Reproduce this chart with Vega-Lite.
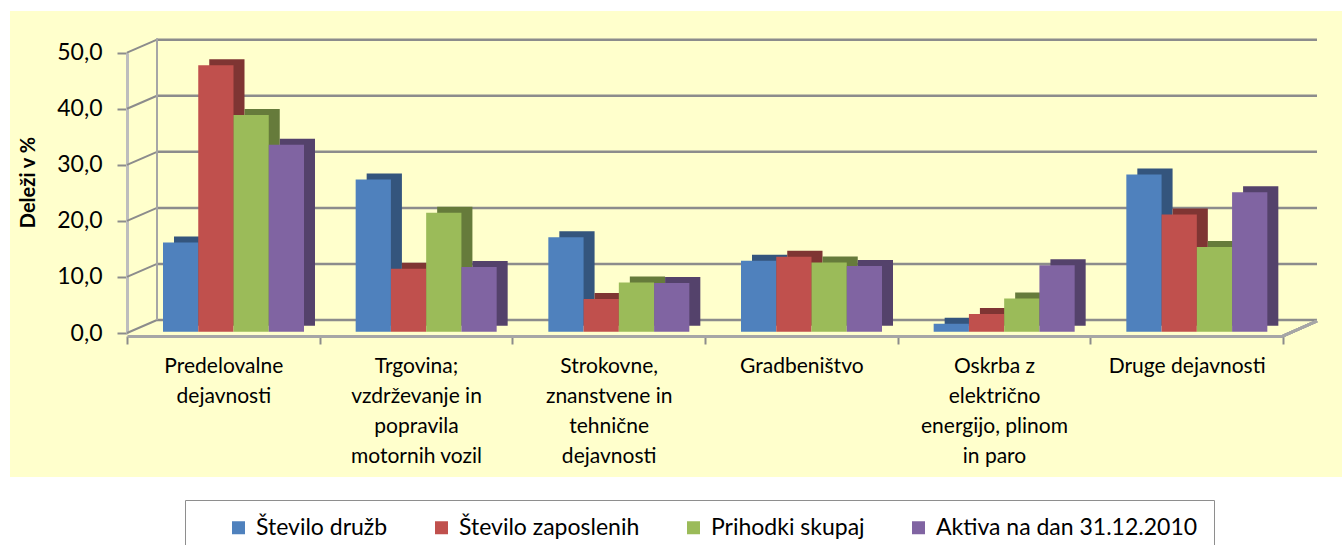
{
  "$schema": "https://vega.github.io/schema/vega-lite/v6.json",
  "width": 1332,
  "height": 466,
  "autosize": {"type": "none"},
  "padding": {"left": 10, "top": 11, "right": 0, "bottom": 68},
  "background": "white",
  "config": {"view": {"fill": "#FFFFCC", "stroke": null}, "font": "Lato"},
  "datasets": {
    "mreza": [{"v": 0}, {"v": 10}, {"v": 20}, {"v": 30}, {"v": 40}, {"v": 50}],
    "delezi": [
      {"kat": "Predelovalne dejavnosti", "serija": "Število družb", "delez": 15.6},
      {"kat": "Predelovalne dejavnosti", "serija": "Število zaposlenih", "delez": 46.6},
      {"kat": "Predelovalne dejavnosti", "serija": "Prihodki skupaj", "delez": 37.9},
      {"kat": "Predelovalne dejavnosti", "serija": "Aktiva na dan 31.12.2010", "delez": 32.7},
      {"kat": "Trgovina; vzdrževanje in popravila motornih vozil", "serija": "Število družb", "delez": 26.6},
      {"kat": "Trgovina; vzdrževanje in popravila motornih vozil", "serija": "Število zaposlenih", "delez": 11.0},
      {"kat": "Trgovina; vzdrževanje in popravila motornih vozil", "serija": "Prihodki skupaj", "delez": 20.8},
      {"kat": "Trgovina; vzdrževanje in popravila motornih vozil", "serija": "Aktiva na dan 31.12.2010", "delez": 11.3},
      {"kat": "Strokovne, znanstvene in tehnične dejavnosti", "serija": "Število družb", "delez": 16.5},
      {"kat": "Strokovne, znanstvene in tehnične dejavnosti", "serija": "Število zaposlenih", "delez": 5.7},
      {"kat": "Strokovne, znanstvene in tehnične dejavnosti", "serija": "Prihodki skupaj", "delez": 8.6},
      {"kat": "Strokovne, znanstvene in tehnične dejavnosti", "serija": "Aktiva na dan 31.12.2010", "delez": 8.5},
      {"kat": "Gradbeništvo", "serija": "Število družb", "delez": 12.4},
      {"kat": "Gradbeništvo", "serija": "Število zaposlenih", "delez": 13.1},
      {"kat": "Gradbeništvo", "serija": "Prihodki skupaj", "delez": 12.1},
      {"kat": "Gradbeništvo", "serija": "Aktiva na dan 31.12.2010", "delez": 11.5},
      {"kat": "Oskrba z električno energijo, plinom in paro", "serija": "Število družb", "delez": 1.4},
      {"kat": "Oskrba z električno energijo, plinom in paro", "serija": "Število zaposlenih", "delez": 3.1},
      {"kat": "Oskrba z električno energijo, plinom in paro", "serija": "Prihodki skupaj", "delez": 5.8},
      {"kat": "Oskrba z električno energijo, plinom in paro", "serija": "Aktiva na dan 31.12.2010", "delez": 11.6},
      {"kat": "Druge dejavnosti", "serija": "Število družb", "delez": 27.5},
      {"kat": "Druge dejavnosti", "serija": "Število zaposlenih", "delez": 20.5},
      {"kat": "Druge dejavnosti", "serija": "Prihodki skupaj", "delez": 14.8},
      {"kat": "Druge dejavnosti", "serija": "Aktiva na dan 31.12.2010", "delez": 24.4}
    ]
  },
  "layer": [
    {
      "data": {"name": "mreza"},
      "encoding": {
        "x": {"datum": 0, "type": "quantitative", "scale": {"domain": [0, 1], "range": [117, 1273], "nice": false, "zero": false}, "axis": null},
        "y": {
          "field": "v",
          "type": "quantitative",
          "scale": {"domain": [0, 50], "range": [322, 41.7], "nice": false, "zero": false},
          "axis": {
            "orient": "left",
            "offset": -117,
            "values": [0, 10, 20, 30, 40, 50],
            "labelExpr": "replace(format(datum.value, '.1f'), '.', ',')",
            "grid": false,
            "domainColor": "#BDBDBD",
            "domainWidth": 3,
            "tickColor": "#8C8C8C",
            "tickWidth": 2,
            "tickSize": 10,
            "labelFont": "Lato",
            "labelFontSize": 23,
            "labelColor": "black",
            "labelPadding": 15,
            "title": "Deleži v %",
            "titleFont": "Lato",
            "titleFontSize": 20,
            "titleFontWeight": "bold",
            "titleColor": "black",
            "titleAngle": -90,
            "titleAlign": "center",
            "titleBaseline": "middle",
            "titleX": -98.5,
            "titleY": 171
          }
        }
      },
      "layer": [
        {
          "mark": {"type": "rule", "color": "#8C8C8C", "strokeWidth": 2.5, "xOffset": 30, "x2Offset": 34, "yOffset": -13},
          "encoding": {"x2": {"datum": 1}}
        },
        {
          "mark": {"type": "rule", "color": "#8C8C8C", "strokeWidth": 2, "x2Offset": 30, "y2Offset": -13},
          "encoding": {"x2": {"datum": 0}, "y2": {"field": "v"}}
        },
        {
          "mark": {"type": "rule", "color": "#A6A6A6", "strokeWidth": 2, "xOffset": 30, "yOffset": -13, "y2Offset": -14},
          "encoding": {"y": {"datum": 0, "type": "quantitative"}, "y2": {"datum": 50}}
        },
        {
          "mark": {"type": "rule", "color": "#A6A6A6", "strokeWidth": 2.5, "x2Offset": 34, "yOffset": 3, "y2Offset": -12},
          "encoding": {"x": {"datum": 1, "type": "quantitative"}, "x2": {"datum": 1}, "y": {"datum": 0, "type": "quantitative"}, "y2": {"datum": 0}}
        }
      ]
    },
    {
      "data": {"name": "delezi"},
      "encoding": {
        "x": {
          "field": "kat",
          "type": "nominal",
          "sort": ["Predelovalne dejavnosti", "Trgovina; vzdrževanje in popravila motornih vozil", "Strokovne, znanstvene in tehnične dejavnosti", "Gradbeništvo", "Oskrba z električno energijo, plinom in paro", "Druge dejavnosti"],
          "scale": {"range": [117, 1273], "paddingInner": 0, "paddingOuter": 0},
          "axis": {
            "orient": "bottom",
            "offset": -141,
            "title": null,
            "grid": false,
            "domainColor": "#A6A6A6",
            "domainWidth": 3,
            "tickBand": "extent",
            "tickColor": "#8C8C8C",
            "tickWidth": 2,
            "tickSize": 8,
            "labelAngle": 0,
            "labelFont": "Lato",
            "labelFontSize": 21,
            "labelColor": "black",
            "labelPadding": 11,
            "labelBaseline": "top",
            "labelLineHeight": 30,
            "labelLimit": 400,
            "labelOverlap": false,
            "labelExpr": "datum.label == 'Predelovalne dejavnosti' ? ['Predelovalne', 'dejavnosti'] : datum.label == 'Trgovina; vzdrževanje in popravila motornih vozil' ? ['Trgovina;', 'vzdrževanje in', 'popravila', 'motornih vozil'] : datum.label == 'Strokovne, znanstvene in tehnične dejavnosti' ? ['Strokovne,', 'znanstvene in', 'tehnične', 'dejavnosti'] : datum.label == 'Oskrba z električno energijo, plinom in paro' ? ['Oskrba z', 'električno', 'energijo, plinom', 'in paro'] : datum.label"
          }
        },
        "y": {
          "field": "delez",
          "type": "quantitative",
          "scale": {"domain": [0, 50], "range": [320.7, 34.7], "nice": false},
          "axis": null
        }
      },
      "layer": [
        {
          "mark": {"type": "bar", "yOffset": -6, "y2Offset": -6},
          "encoding": {
            "xOffset": {
              "field": "serija",
              "type": "nominal",
              "sort": ["Število družb", "Število zaposlenih", "Prihodki skupaj", "Aktiva na dan 31.12.2010"],
              "scale": {"range": [47, 188], "paddingInner": 0, "paddingOuter": 0}
            },
            "color": {
              "field": "serija",
              "type": "nominal",
              "scale": {"domain": ["Število družb", "Število zaposlenih", "Prihodki skupaj", "Aktiva na dan 31.12.2010"], "range": ["#34557D", "#7F3533", "#667B3B", "#54426B"]},
              "legend": null
            }
          }
        },
        {
          "mark": {"type": "bar"},
          "encoding": {
            "xOffset": {
              "field": "serija",
              "type": "nominal",
              "sort": ["Število družb", "Število zaposlenih", "Prihodki skupaj", "Aktiva na dan 31.12.2010"],
              "scale": {"range": [36, 177], "paddingInner": 0, "paddingOuter": 0}
            },
            "color": {
              "field": "serija",
              "type": "nominal",
              "scale": {"domain": ["Število družb", "Število zaposlenih", "Prihodki skupaj", "Aktiva na dan 31.12.2010"], "range": ["#4F81BD", "#C0504D", "#9BBB59", "#8064A2"]},
              "legend": {
                "orient": "none",
                "legendX": 175,
                "legendY": 489,
                "direction": "horizontal",
                "title": null,
                "fillColor": "white",
                "strokeColor": "#8E8E8E",
                "padding": 16,
                "symbolType": "square",
                "symbolSize": 169,
                "symbolStrokeWidth": 0,
                "symbolOffset": 26,
                "labelOffset": 6,
                "columnPadding": 16,
                "labelFont": "Lato",
                "labelFontSize": 23,
                "labelColor": "black",
                "labelLimit": 0
              }
            }
          }
        }
      ],
      "resolve": {"scale": {"xOffset": "independent", "color": "independent"}, "legend": {"color": "independent"}}
    }
  ],
  "resolve": {"scale": {"x": "independent", "y": "independent"}}
}
